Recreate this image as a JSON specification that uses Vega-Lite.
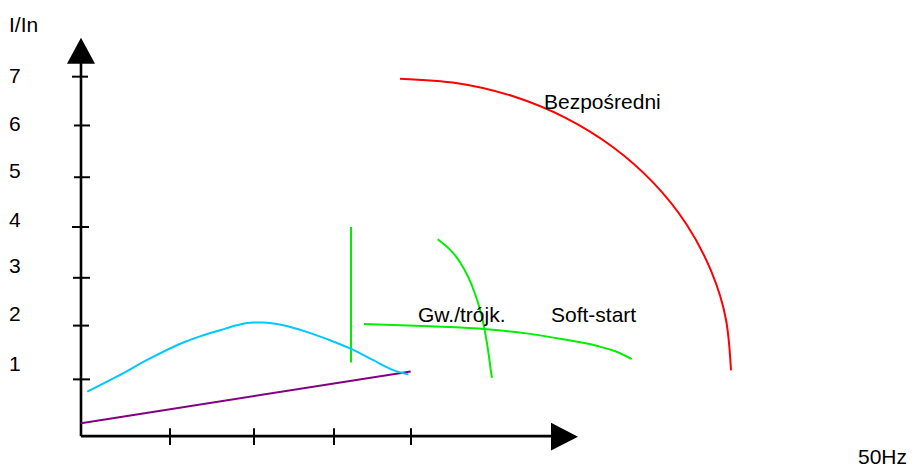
{
  "$schema": "https://vega.github.io/schema/vega-lite/v6.json",
  "width": 916,
  "height": 468,
  "autosize": {"type": "fit", "contains": "padding"},
  "padding": 0,
  "background": "white",
  "config": {"view": {"stroke": null}},
  "datasets": {
    "axes": [
      {"x": 0, "y": 0, "x2": 0, "y2": 380},
      {"x": 0, "y": 0, "x2": 480, "y2": 0}
    ],
    "ticks": [
      {"x": -9, "x2": 7, "y": 361, "y2": 361},
      {"x": -7, "x2": 9, "y": 312, "y2": 312},
      {"x": -7, "x2": 9, "y": 260, "y2": 260},
      {"x": -9, "x2": 8, "y": 210, "y2": 210},
      {"x": -8, "x2": 9, "y": 159, "y2": 159},
      {"x": -8, "x2": 8, "y": 111, "y2": 111},
      {"x": -8, "x2": 9, "y": 57, "y2": 57},
      {"x": 89, "x2": 89, "y": 8, "y2": -9},
      {"x": 173, "x2": 173, "y": 8, "y2": -9},
      {"x": 253, "x2": 253, "y": 8, "y2": -9},
      {"x": 330, "x2": 330, "y": 8, "y2": -9}
    ],
    "arrowY": [{"x": 0, "y": 387}],
    "arrowX": [{"x": 483.5, "y": -0.5}],
    "straight": [
      {"series": "Moment", "x": 0, "y": 13, "x2": 329.7, "y2": 65},
      {"series": "Skok", "x": 270, "y": 210, "x2": 270, "y2": 74}
    ],
    "curvesA": [
      {"series": "Przemiennik", "i": 0, "x": 6.3, "y": 44.7},
      {"series": "Przemiennik", "i": 1, "x": 35.7, "y": 59.7},
      {"series": "Przemiennik", "i": 2, "x": 69, "y": 78},
      {"series": "Przemiennik", "i": 3, "x": 102.3, "y": 94},
      {"series": "Przemiennik", "i": 4, "x": 119, "y": 100.2},
      {"series": "Przemiennik", "i": 5, "x": 139, "y": 106.3},
      {"series": "Przemiennik", "i": 6, "x": 155.7, "y": 111.3},
      {"series": "Przemiennik", "i": 7, "x": 172.3, "y": 114},
      {"series": "Przemiennik", "i": 8, "x": 182.3, "y": 114},
      {"series": "Przemiennik", "i": 9, "x": 202.3, "y": 111.3},
      {"series": "Przemiennik", "i": 10, "x": 225.7, "y": 104.7},
      {"series": "Przemiennik", "i": 11, "x": 249, "y": 96.3},
      {"series": "Przemiennik", "i": 12, "x": 270.7, "y": 87.3},
      {"series": "Przemiennik", "i": 13, "x": 292.3, "y": 76.3},
      {"series": "Przemiennik", "i": 14, "x": 312.3, "y": 66.3},
      {"series": "Przemiennik", "i": 15, "x": 327.3, "y": 62},
      {"series": "Soft-start", "i": 0, "x": 283, "y": 112.7},
      {"series": "Soft-start", "i": 1, "x": 349, "y": 110.3},
      {"series": "Soft-start", "i": 2, "x": 405.7, "y": 107.3},
      {"series": "Soft-start", "i": 3, "x": 449, "y": 102.7},
      {"series": "Soft-start", "i": 4, "x": 482, "y": 97.3},
      {"series": "Soft-start", "i": 5, "x": 515.7, "y": 90.7},
      {"series": "Soft-start", "i": 6, "x": 535.7, "y": 84.7},
      {"series": "Soft-start", "i": 7, "x": 550.7, "y": 77.3}
    ],
    "curvesB": [
      {"series": "Gw./trójk.", "i": 0, "x": 356.7, "y": 197.7},
      {"series": "Gw./trójk.", "i": 1, "x": 369, "y": 187.3},
      {"series": "Gw./trójk.", "i": 2, "x": 379, "y": 174.7},
      {"series": "Gw./trójk.", "i": 3, "x": 387.3, "y": 159.7},
      {"series": "Gw./trójk.", "i": 4, "x": 394, "y": 143},
      {"series": "Gw./trójk.", "i": 5, "x": 399.7, "y": 124.7},
      {"series": "Gw./trójk.", "i": 6, "x": 404, "y": 104.7},
      {"series": "Gw./trójk.", "i": 7, "x": 407.3, "y": 84.7},
      {"series": "Gw./trójk.", "i": 8, "x": 410, "y": 64.7},
      {"series": "Gw./trójk.", "i": 9, "x": 411, "y": 58.7},
      {"series": "Bezpośredni", "i": 0, "x": 319, "y": 359},
      {"series": "Bezpośredni", "i": 1, "x": 376.5, "y": 354.5},
      {"series": "Bezpośredni", "i": 2, "x": 432.2, "y": 341.3},
      {"series": "Bezpośredni", "i": 3, "x": 484.5, "y": 319.7},
      {"series": "Bezpośredni", "i": 4, "x": 531.8, "y": 290.4},
      {"series": "Bezpośredni", "i": 5, "x": 572.5, "y": 254.3},
      {"series": "Bezpośredni", "i": 6, "x": 605.6, "y": 212.5},
      {"series": "Bezpośredni", "i": 7, "x": 630, "y": 166.2},
      {"series": "Bezpośredni", "i": 8, "x": 645, "y": 116.9},
      {"series": "Bezpośredni", "i": 9, "x": 650, "y": 66}
    ],
    "labels": [
      {"x": -72, "y": 406, "t": "I/In"},
      {"x": -72, "y": 355, "t": "7"},
      {"x": -72, "y": 306, "t": "6"},
      {"x": -72, "y": 259, "t": "5"},
      {"x": -72, "y": 210, "t": "4"},
      {"x": -72, "y": 164, "t": "3"},
      {"x": -72, "y": 116, "t": "2"},
      {"x": -72, "y": 65, "t": "1"},
      {"x": 463, "y": 329, "t": "Bezpośredni"},
      {"x": 337, "y": 115, "t": "Gw./trójk."},
      {"x": 470, "y": 115, "t": "Soft-start"},
      {"x": 777, "y": -28, "t": "50Hz"}
    ]
  },
  "layer": [
    {
      "data": {"name": "axes"},
      "mark": {"type": "rule", "color": "black", "strokeWidth": 2.6},
      "encoding": {
        "x": {"field": "x", "type": "quantitative", "scale": {"domain": [-81, 835], "nice": false, "zero": false}, "axis": null},
        "y": {"field": "y", "type": "quantitative", "scale": {"domain": [-30, 438], "nice": false, "zero": false}, "axis": null},
        "x2": {"field": "x2"},
        "y2": {"field": "y2"}
      }
    },
    {
      "data": {"name": "ticks"},
      "mark": {"type": "rule", "color": "black", "strokeWidth": 2},
      "encoding": {
        "x": {"field": "x", "type": "quantitative"},
        "y": {"field": "y", "type": "quantitative"},
        "x2": {"field": "x2"},
        "y2": {"field": "y2"}
      }
    },
    {
      "data": {"name": "arrowY"},
      "mark": {"type": "point", "shape": "M0,-1L1.08,1L-1.08,1Z", "size": 676, "filled": true, "color": "black", "opacity": 1},
      "encoding": {
        "x": {"field": "x", "type": "quantitative"},
        "y": {"field": "y", "type": "quantitative"}
      }
    },
    {
      "data": {"name": "arrowX"},
      "mark": {"type": "point", "shape": "M1,0L-1,1.02L-1,-1.02Z", "size": 729, "filled": true, "color": "black", "opacity": 1},
      "encoding": {
        "x": {"field": "x", "type": "quantitative"},
        "y": {"field": "y", "type": "quantitative"}
      }
    },
    {
      "data": {"name": "straight"},
      "mark": {"type": "rule", "strokeWidth": 2},
      "encoding": {
        "x": {"field": "x", "type": "quantitative"},
        "y": {"field": "y", "type": "quantitative"},
        "x2": {"field": "x2"},
        "y2": {"field": "y2"},
        "color": {"field": "series", "type": "nominal", "legend": null,
          "scale": {"domain": ["Bezpośredni", "Soft-start", "Gw./trójk.", "Skok", "Przemiennik", "Moment"],
                    "range": ["#ff0000", "#00ee00", "#00ee00", "#00ee00", "#00c8ff", "#800080"]}}
      }
    },
    {
      "data": {"name": "curvesA"},
      "mark": {"type": "line", "strokeWidth": 2, "interpolate": "monotone"},
      "encoding": {
        "x": {"field": "x", "type": "quantitative"},
        "y": {"field": "y", "type": "quantitative"},
        "order": {"field": "i", "type": "quantitative"},
        "color": {"field": "series", "type": "nominal", "legend": null}
      }
    },
    {
      "data": {"name": "curvesB"},
      "mark": {"type": "line", "strokeWidth": 2, "interpolate": "natural"},
      "encoding": {
        "x": {"field": "x", "type": "quantitative"},
        "y": {"field": "y", "type": "quantitative"},
        "order": {"field": "i", "type": "quantitative"},
        "color": {"field": "series", "type": "nominal", "legend": null}
      }
    },
    {
      "data": {"name": "labels"},
      "mark": {"type": "text", "align": "left", "baseline": "alphabetic", "font": "Liberation Sans", "fontSize": 21, "color": "black"},
      "encoding": {
        "x": {"field": "x", "type": "quantitative"},
        "y": {"field": "y", "type": "quantitative"},
        "text": {"field": "t", "type": "nominal"}
      }
    }
  ]
}
